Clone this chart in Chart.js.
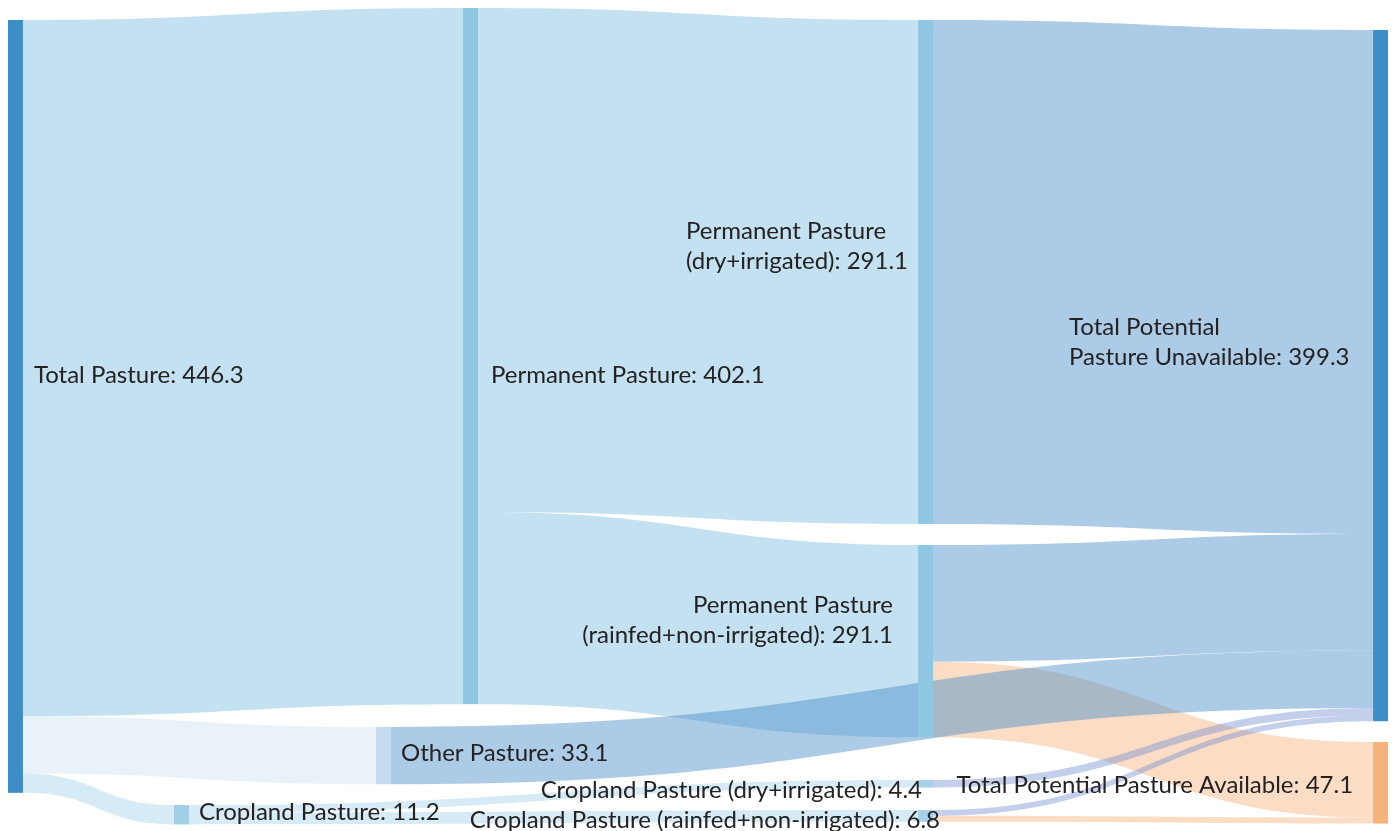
<!DOCTYPE html>
<html lang="en">
<head>
  <meta charset="UTF-8" />
  <title>Pasture Sankey</title>
  <script src="https://cdn.jsdelivr.net/npm/chart.js"></script>
  <style>
    body {
      margin: 0;
      background: #fff;
    }
    .wrap {
      width: 1392px;
      height: 831px;
      position: relative;
    }
  </style>
</head>
<body>

  <div class="wrap"><canvas id="sankey"></canvas></div>

  <script>
    // --- data ---
    const nodeLabels = [
      'Total Pasture: 446.3',
      'Permanent Pasture: 402.1',
      'Other Pasture: 33.1',
      'Cropland Pasture: 11.2',
      'Permanent Pasture\n(dry+irrigated): 291.1',
      'Permanent Pasture\n(rainfed+non-irrigated): 291.1',
      'Cropland Pasture (dry+irrigated): 4.4',
      'Cropland Pasture (rainfed+non-irrigated): 6.8',
      'Total Potential\nPasture Unavailable: 399.3',
      'Total Potential Pasture Available: 47.1'
    ];
    const linkFrom   = [0, 0, 0, 1, 1, 3, 3, 4, 5, 2, 6, 7, 5, 7];
    const linkTo     = [1, 2, 3, 4, 5, 6, 7, 8, 8, 8, 8, 8, 9, 9];
    const linkValues = [402.1, 33.1, 11.2, 291.1, 111.0, 4.4, 6.8, 291.1, 67.4, 33.1, 4.4, 3.3, 43.6, 3.5];

    // --- layout (like plotly node.x / node.y) ---
    const nodeX   = [0.0057, 0.3326, 0.2701, 0.125, 0.6595, 0.6595, 0.6595, 0.6595, 0.9864, 0.9864];
    const nodeTop = [11.55, 4.62, 419.9, 465.0, 11.55, 314.8, 450.5, 467.9, 17.3, 428.6];
    const NODE_W = 15;
    // label placement: align, dx from node edge, dy from node middle
    const labelPos = [
      { align: 'left',  from: 'right', dx: 11,   dy: -31 },
      { align: 'left',  from: 'right', dx: 13,   dy: 19 },
      { align: 'left',  from: 'right', dx: 10,   dy: -2 },
      { align: 'left',  from: 'right', dx: 10,   dy: -2 },
      { align: 'left',  from: 'left',  dx: -232, dy: -26 },
      { align: 'right', from: 'left',  dx: -25,  dy: -21 },
      { align: 'right', from: 'left',  dx: 4,    dy: 7 },
      { align: 'right', from: 'left',  dx: 22,   dy: 4 },
      { align: 'left',  from: 'left',  dx: -304, dy: -33 },
      { align: 'right', from: 'left',  dx: -20,  dy: 2 }
    ];

    // --- styles ---
    const nodeColors = ['#3d8ec6', '#8fc8e3', '#c6dcef', '#a3cfe6', '#8fc8e3', '#8fc8e3', '#a5d0e8', '#a5d0e8', '#3d8ec6', '#f5b27a'];
    const pastureBlue = 'rgba(135,195,228,0.5)';
    const paleBlue = 'rgba(190,215,238,0.33)';
    const cropBlue = 'rgba(135,195,228,0.33)';
    const unavailBlue = 'rgba(70,140,200,0.45)';
    const thinBlue = 'rgba(100,130,205,0.38)';
    const availOrange = 'rgba(245,170,110,0.4)';
    const linkColors = [pastureBlue, paleBlue, cropBlue, pastureBlue, pastureBlue, cropBlue, cropBlue,
      unavailBlue, unavailBlue, unavailBlue, thinBlue, thinBlue, availOrange, availOrange];
    // orange links sit underneath the blue ones
    const linkLayer = [1, 1, 1, 1, 1, 1, 1, 1, 1, 1, 1, 1, 0, 0];

    const sankeyPlugin = {
      id: 'sankey',
      afterDatasetsDraw(chart) {
        const { ctx, scales: { x, y } } = chart;

        const nodes = nodeLabels.map((label, i) => {
          let inSum = 0, outSum = 0;
          linkValues.forEach((v, k) => {
            if (linkTo[k] === i) inSum += v;
            if (linkFrom[k] === i) outSum += v;
          });
          const value = Math.max(inSum, outSum);
          const left = x.getPixelForValue(nodeX[i]);
          return {
            left,
            right: left + NODE_W,
            top: y.getPixelForValue(nodeTop[i]),
            bottom: y.getPixelForValue(nodeTop[i] + value),
            outOff: nodeTop[i],
            inOff: nodeTop[i]
          };
        });

        // link geometry, stacked in link order
        const bands = linkValues.map((v, k) => {
          const s = nodes[linkFrom[k]];
          const t = nodes[linkTo[k]];
          const band = {
            k,
            x0: s.right,
            x1: t.left,
            sy0: y.getPixelForValue(s.outOff),
            sy1: y.getPixelForValue(s.outOff + v),
            ty0: y.getPixelForValue(t.inOff),
            ty1: y.getPixelForValue(t.inOff + v)
          };
          s.outOff += v;
          t.inOff += v;
          return band;
        });

        ctx.save();

        bands.slice().sort((a, b) => linkLayer[a.k] - linkLayer[b.k] || a.k - b.k).forEach(b => {
          const mx = (b.x0 + b.x1) / 2;
          ctx.beginPath();
          ctx.moveTo(b.x0, b.sy0);
          ctx.bezierCurveTo(mx, b.sy0, mx, b.ty0, b.x1, b.ty0);
          ctx.lineTo(b.x1, b.ty1);
          ctx.bezierCurveTo(mx, b.ty1, mx, b.sy1, b.x0, b.sy1);
          ctx.closePath();
          ctx.fillStyle = linkColors[b.k];
          ctx.fill();
        });

        // nodes
        nodes.forEach((n, i) => {
          ctx.fillStyle = nodeColors[i];
          ctx.fillRect(n.left, n.top, NODE_W, n.bottom - n.top);
        });

        // labels
        ctx.font = '24px Lato, "Open Sans", sans-serif';
        ctx.fillStyle = '#242222';
        ctx.textBaseline = 'middle';
        const lineH = 30;
        nodes.forEach((n, i) => {
          const p = labelPos[i];
          const lines = nodeLabels[i].split('\n');
          const ax = (p.from === 'right' ? n.right : n.left) + p.dx;
          const mid = (n.top + n.bottom) / 2 + p.dy;
          ctx.textAlign = p.align;
          lines.forEach((line, j) => {
            const ly = mid + (j - (lines.length - 1) / 2) * lineH;
            ctx.fillText(line, ax, ly);
          });
        });

        ctx.restore();
      }
    };

    const ctx = document.getElementById('sankey').getContext('2d');
    new Chart(ctx, {
      type: 'scatter',
      data: { datasets: [{ data: [] }] },
      options: {
        responsive: true,
        maintainAspectRatio: false,
        animation: false,
        layout: { padding: 0 },
        plugins: {
          legend: { display: false },
          tooltip: { enabled: false }
        },
        scales: {
          x: { type: 'linear', min: 0, max: 1, display: false },
          y: { type: 'linear', min: 0, max: 480, reverse: true, display: false }
        }
      },
      plugins: [sankeyPlugin]
    });
  </script>

</body>
</html>
